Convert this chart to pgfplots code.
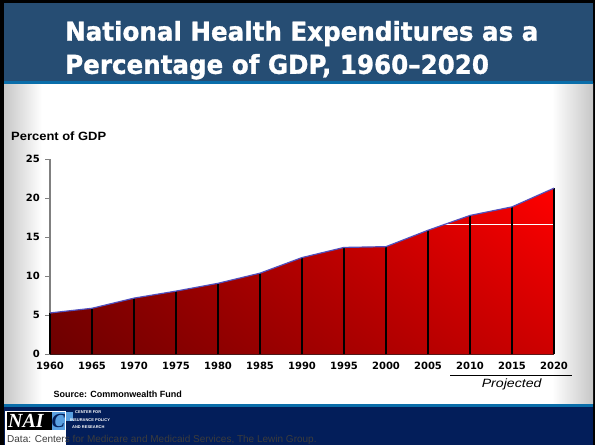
\documentclass[border=0pt]{standalone}
\usepackage{pgfplots}
\pgfplotsset{compat=1.18}
\usepackage{pgfplotstable}
\usetikzlibrary{shadings}
\usepackage{fontspec}
\setmainfont{Liberation Sans}
\newfontfamily\dejavu{DejaVu Sans}
\newfontfamily\titlefont[BoldFeatures={FakeBold=1.2}]{DejaVu Sans}
\newfontfamily\serifb{Liberation Serif}
\definecolor{band}{RGB}{38,77,115}
\definecolor{lblue}{RGB}{10,110,170}
\definecolor{navy}{RGB}{3,30,90}
\definecolor{outl}{RGB}{80,80,190}
\definecolor{cLL}{RGB}{108,0,0}
\definecolor{cUL}{RGB}{140,0,0}
\definecolor{cLR}{RGB}{205,0,0}
\definecolor{cUR}{RGB}{255,0,0}
\definecolor{logoblue}{RGB}{90,160,225}
\definecolor{datagray}{RGB}{60,60,60}

\pgfplotstableread{
year pct
1960 5.3
1965 5.9
1970 7.2
1975 8.1
1980 9.1
1985 10.4
1990 12.4
1995 13.7
2000 13.8
2005 15.9
2010 17.8
2015 18.9
2020 21.3
}\nhe

\begin{document}
\begin{tikzpicture}
\begin{scope}[x=1pt,y=1pt]
\useasboundingbox (0,0) rectangle (595,445);
\fill[black] (0,0) rectangle (595,445);
% content area
\fill[white] (4,41) rectangle (593,361);
\shade[left color=black!22, right color=white] (4,41) rectangle (42,361);
\shade[left color=white, right color=black!22] (552,41) rectangle (593,361);
% title band
\fill[band] (4,364.3) rectangle (593,442);
\fill[lblue] (4,361) rectangle (593,364.3);
% footer
\fill[lblue] (4,38) rectangle (593,41);
\fill[navy] (4,0) rectangle (593,38);

% title
\node[anchor=base west, text=white, inner sep=0pt] at (65,404.3)
  {\titlefont\bfseries\fontsize{26}{30}\selectfont\scalebox{0.945}[1]{National Health Expenditures as a}};
\node[anchor=base west, text=white, inner sep=0pt] at (65,371.2)
  {\titlefont\bfseries\fontsize{26}{30}\selectfont\scalebox{0.945}[1]{Percentage of GDP, 1960–2020}};

% y label
\node[anchor=base west, inner sep=0pt] at (11,304.3)
  {\bfseries\fontsize{12}{14}\selectfont\scalebox{1.08}[1]{Percent of GDP}};
\end{scope}

\begin{axis}[
  at={(50pt,90.7pt)}, anchor=south west, scale only axis,
  width=504pt, height=195pt,
  xmin=1960, xmax=2020, ymin=0, ymax=25,
  clip=false,
  axis x line*=bottom, axis y line*=left,
  separate axis lines,
  x axis line style={black!85, line width=0.8pt, -},
  y axis line style={black!50, line width=1.2pt, -},
  xtick={1960,1965,...,2020}, ytick={0,5,...,25},
  xtick style={draw=none},
  ytick style={black!50, line width=1pt},
  major tick length=5pt, tick align=outside,
  /pgf/number format/1000 sep={},
  /pgf/number format/assume math mode=true,
  ticklabel style={font=\dejavu\bfseries\fontsize{10}{12}\selectfont},
  xticklabel style={anchor=north, inner sep=0pt, yshift=-3pt},
  yticklabel style={anchor=east, inner sep=0pt, xshift=-5pt},
]
\addplot[draw=none, lower left=cLL, upper left=cUL, lower right=cLR, upper right=cUR]
  table[x=year, y=pct] {\nhe} \closedcycle;
\addplot[white, line width=1pt] coordinates {(2007,16.7) (2020,16.7)};
\addplot[ycomb, black, line width=1.4pt, mark=none] table[x=year, y=pct] {\nhe};
\addplot[outl, line width=1.2pt, mark=none] table[x=year, y=pct] {\nhe};
\end{axis}

\begin{scope}[x=1pt,y=1pt]
% projected
\draw[black, line width=0.9pt] (450,69.5) -- (571.5,69.5);
\node[anchor=base, inner sep=0pt] at (511.7,57.5)
  {\itshape\fontsize{12}{14}\selectfont\scalebox{1.18}[1]{Projected}};

% source
\node[anchor=base west, inner sep=0pt] at (53.3,47.7)
  {\bfseries\fontsize{9}{11}\selectfont Source: Commonwealth Fund};

% logo
\fill[white] (5,0) rectangle (66,34);
\fill[black] (6.5,14.5) rectangle (52,32.5);
\fill[logoblue] (52,14.5) rectangle (64.5,32.5);
\node[anchor=base west, inner sep=0pt, text=white] at (8,17)
  {\serifb\bfseries\itshape\fontsize{20}{20}\selectfont NAI};
\node[anchor=base west, inner sep=0pt, text=navy] at (51.5,17)
  {\serifb\bfseries\itshape\fontsize{20}{20}\selectfont C};
\fill[logoblue] (66,24) rectangle (73,33);
\node[anchor=base west, inner sep=0pt, text=white] at (75,31)
  {\bfseries\fontsize{4}{4.5}\selectfont CENTER FOR};
\node[anchor=base west, inner sep=0pt, text=white] at (70,23.5)
  {\bfseries\fontsize{4}{4.5}\selectfont INSURANCE POLICY};
\node[anchor=base west, inner sep=0pt, text=white] at (72,16)
  {\bfseries\fontsize{4}{4.5}\selectfont AND RESEARCH};
\node[anchor=base west, inner sep=0pt, text=datagray] at (7,2)
  {\fontsize{10}{11}\selectfont Data: Centers for Medicare and Medicaid Services, The Lewin Group.};
\end{scope}
\end{tikzpicture}
\end{document}
